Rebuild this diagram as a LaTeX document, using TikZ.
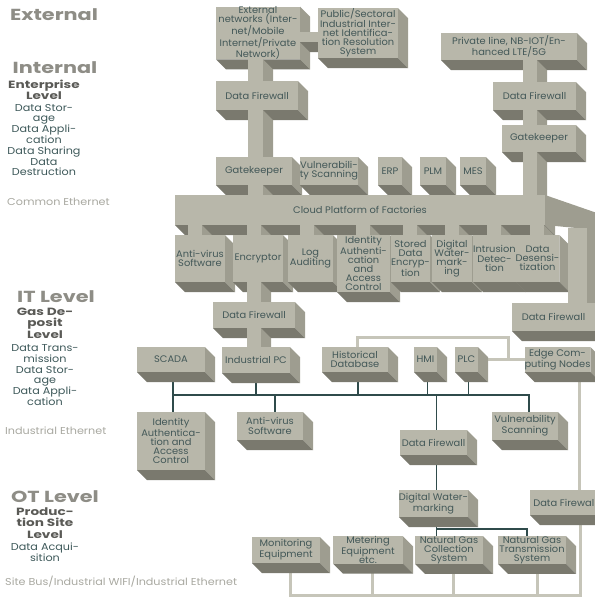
\documentclass[tikz,border=0pt]{standalone}
\usepackage{fontspec}
\setmainfont{Poppins}
\newfontfamily\headfont{Poppins}[FakeStretch=1.3]
\newfontfamily\widefont{Poppins}[FakeStretch=1.12]
\newfontfamily\boxfont{Poppins}[FakeStretch=1.04]
\usetikzlibrary{calc}

\definecolor{faceC}{HTML}{B8B7AA}
\definecolor{sideC}{HTML}{9E9D90}
\definecolor{baseC}{HTML}{7A796E}
\definecolor{boxtxt}{HTML}{435858}
\definecolor{wireC}{HTML}{2F4B4B}
\definecolor{liteC}{HTML}{C6C5B9}
\definecolor{headC}{HTML}{8E8D86}
\definecolor{subC}{HTML}{5A5A56}
\definecolor{bodyC}{HTML}{3D5859}
\definecolor{netC}{HTML}{A8A8A0}

\pgfdeclarelayer{wires}
\pgfdeclarelayer{faces}
\pgfdeclarelayer{bars}
\pgfsetlayers{wires,faces,bars,main}

\tikzset{
  slabface/.style={fill=faceC, text=boxtxt, align=center, inner sep=0pt, outer sep=0pt,
    font=\boxfont\fontsize{9.5}{9.2}\selectfont},
  wire/.style={draw=wireC, line width=1.8pt},
  lite/.style={draw=liteC, line width=3pt},
  tierhead/.style={text=headC, font=\headfont\bfseries\fontsize{16}{18}\selectfont, inner sep=0pt},
  tiersub/.style={text=subC, align=center, font=\headfont\bfseries\fontsize{10.5}{11.5}\selectfont, inner sep=0pt},
  tierbody/.style={text=bodyC, align=center, font=\widefont\fontsize{10}{10.8}\selectfont, inner sep=0pt},
  netlabel/.style={text=netC, anchor=west, font=\widefont\fontsize{10}{12}\selectfont, inner sep=0pt},
}

% extruded box: name, x1, y1, x2, y2 (front face), text
\newcommand\slab[6]{%
  \pgfmathsetmacro\slabw{#4-#2}%
  \pgfmathsetmacro\slabh{#5-#3}%
  \node[slabface, minimum width=\slabw pt, minimum height=\slabh pt] (#1) at ({(#2+#4)/2},{(#3+#5)/2}) {#6};
  \begin{pgfonlayer}{faces}
    \fill[sideC] (#1.north east) -- ++(10,10) -- ([shift={(10,10)}]#1.south east) -- (#1.south east) -- cycle;
    \fill[baseC] (#1.south west) -- (#1.south east) -- ++(10,10) -- ([shift={(10,10)}]#1.south west) -- cycle;
  \end{pgfonlayer}
}
% vertical extruded bar between two boxes, front face from x #3 to x #4
\newcommand\vlink[4]{%
  \begin{pgfonlayer}{bars}
    \fill[sideC] let \p1=(#1.south), \p2=(#2.north) in
      (#4pt,\y1) -- (#4pt+10pt,\y1-10pt) -- (#4pt+10pt,\y2-10pt) -- (#4pt,\y2) -- cycle;
    \fill[faceC] let \p1=(#1.south), \p2=(#2.north) in (#3pt,\y1) rectangle (#4pt,\y2);
  \end{pgfonlayer}
}
% horizontal extruded bar between two boxes, front face from y #3 to y #4
\newcommand\hlink[4]{%
  \begin{pgfonlayer}{bars}
    \fill[baseC] let \p1=(#1.east), \p2=(#2.west) in
      (\x1,-#4pt) -- (\x2,-#4pt) -- (\x2+10pt,-#4pt-10pt) -- (\x1+10pt,-#4pt-10pt) -- cycle;
    \fill[faceC] let \p1=(#1.east), \p2=(#2.west) in (\x1,-#3pt) rectangle (\x2,-#4pt);
  \end{pgfonlayer}
}

\begin{document}
\begin{tikzpicture}[x=1pt,y=-1pt]
\useasboundingbox (0,0) rectangle (595,598);

% ---- tier captions
\node[tierhead] (tExt) at (54,15) {External};
\node[tierhead] (tInt) at (55,68) {Internal};
\node[tiersub] (tEnt) at (44,90) {Enterprise\\Level};
\node[tierbody] (tEntB) at (44,140) {Data Stor-\\age\\Data Appli-\\cation\\Data Sharing\\Data\\Destruction};
\node[netlabel] (nCommon) at (7,202) {Common Ethernet};
\node[tierhead] (tIT) at (56,297) {IT Level};
\node[tiersub] (tGas) at (45,323) {Gas De-\\posit\\Level};
\node[tierbody] (tGasB) at (45,375) {Data Trans-\\mission\\Data Stor-\\age\\Data Appli-\\cation};
\node[netlabel] (nInd) at (5,431) {Industrial Ethernet};
\node[tierhead] (tOT) at (55,497) {OT Level};
\node[tiersub] (tProd) at (45,523) {Produc-\\tion Site\\Level};
\node[tierbody] (tProdB) at (45,552) {Data Acqui-\\sition};
\node[netlabel] (nSite) at (5,582) {Site Bus/Industrial WIFI/Industrial Ethernet};

% ---- external and enterprise boxes
\slab{ext}{216}{8}{300}{58}{External\\networks (Inter-\\net/Mobile\\Internet/Private\\Network)}
\slab{pub}{318}{8}{398}{58}{Public/Sectoral\\Industrial Inter-\\net Identifica-\\tion Resolution\\System}
\slab{priv}{441}{33}{577}{60}{Private line, NB-IOT/En-\\hanced LTE/5G}
\slab{fwA}{216}{81}{298}{110}{Data Firewall}
\slab{fwB}{493}{82}{576}{110}{Data Firewall}
\slab{gkB}{502}{125}{576}{152}{Gatekeeper}
\slab{gkA}{216}{157}{292}{185}{Gatekeeper}
\slab{vsA}{300}{157}{358}{185}{Vulnerabili-\\ty Scanning}
\slab{erp}{378}{157}{402}{185}{ERP}
\slab{plm}{420}{157}{446}{185}{PLM}
\slab{mes}{460}{157}{486}{185}{MES}
\slab{cloud}{175}{195}{545}{225}{Cloud Platform of Factories}
\slab{av1}{175}{235}{225}{282}{Anti-virus\\Software}
\slab{enc}{233}{235}{283}{282}{Encryptor}
\slab{log}{288}{235}{333}{282}{Log\\Auditing}
\slab{ida1}{337}{235}{390}{292}{Identity\\Authenti-\\cation\\and\\Access\\Control}
\slab{sde}{391}{235}{430}{282}{Stored\\Data\\Encryp-\\tion}
\slab{dwm1}{432}{235}{472}{282}{Digital\\Water-\\mark-\\ing}
\slab{ids}{474}{235}{515}{282}{Intrusion\\Detec-\\tion}
\slab{dds}{517}{235}{558}{282}{Data\\Desensi-\\tization}

% ---- gas deposit level boxes
\slab{fwC}{213}{302}{295}{328}{Data Firewall}
\slab{fwD}{512}{303}{595}{331}{Data Firewall}
\slab{scada}{137}{347}{205}{372}{SCADA}
\slab{ipc}{222}{347}{290}{373}{Industrial PC}
\slab{hdb}{322}{347}{388}{372}{Historical\\Database}
\slab{hmi}{414}{347}{437}{372}{HMI}
\slab{plc}{455}{347}{478}{372}{PLC}
\slab{edge}{525}{347}{590}{372}{Edge Com-\\puting Nodes}
\slab{ida2}{137}{412}{205}{470}{Identity\\Authentica-\\tion and\\Access\\Control}
\slab{av2}{237}{412}{303}{440}{Anti-virus\\Software}
\slab{vs2}{492}{412}{558}{440}{Vulnerability\\Scanning}
\slab{fwE}{400}{430}{467}{455}{Data Firewall}

% ---- production site level boxes
\slab{dwm2}{400}{490}{467}{517}{Digital Water-\\marking}
\slab{fwF}{530}{490}{600}{515}{Data Firewall}
\slab{mon}{252}{537}{320}{563}{Monitoring\\Equipment}
\slab{met}{333}{537}{403}{563}{Metering\\Equipment\\etc.}
\slab{ngc}{415}{537}{483}{563}{Natural Gas\\Collection\\System}
\slab{ngt}{498}{537}{566}{563}{Natural Gas\\Transmission\\System}

% ---- extruded trunks
\hlink{ext}{pub}{32}{42}
\vlink{ext}{fwA}{248}{263}
\vlink{fwA}{gkA}{248}{263}
\vlink{gkA}{cloud}{248}{263}
\vlink{priv}{fwB}{523}{537}
\vlink{fwB}{gkB}{523}{537}
\vlink{gkB}{cloud}{523}{537}
\vlink{cloud}{av1}{188}{202}
\vlink{cloud}{enc}{247}{261}
\vlink{cloud}{log}{300}{314}
\vlink{cloud}{ida1}{356}{370}
\vlink{cloud}{sde}{403}{417}
\vlink{cloud}{dwm1}{445}{459}
\vlink{cloud}{ids}{487}{501}
\vlink{cloud}{dds}{530}{544}
\vlink{enc}{fwC}{247}{261}
\vlink{fwC}{ipc}{247}{261}
% elbow from the cloud platform down to the right-hand firewall
\begin{pgfonlayer}{bars}
  \fill[sideC] (cloud.north east) -- (597,213) -- (597,230) -- (cloud.south east) -- cycle;
  \fill[sideC] let \p1=(fwD.north) in (587pt,-228pt) -- (597pt,-228pt) -- (597pt,\y1) -- (587pt,\y1) -- cycle;
  \fill[faceC] let \p1=(fwD.north) in (568pt,-228pt) rectangle (587pt,\y1);
\end{pgfonlayer}

% ---- industrial ethernet wiring
\coordinate (itbus) at (0,395);
\coordinate (split) at (0,529);
\begin{pgfonlayer}{wires}
  \draw[wire] ([xshift=2pt]scada.south) -- ([xshift=2pt]scada.south |- itbus) -- ([xshift=2pt]ida2.north);
  \draw[wire] ([xshift=2pt]scada.south |- itbus) -- ([xshift=4pt]vs2.north |- itbus) -- ([xshift=4pt]vs2.north);
  \draw[wire] (ipc.south) -- (ipc.south |- itbus);
  \draw[wire] ([xshift=3pt]hdb.south) -- ([xshift=3pt]hdb.south |- itbus);
  \draw[wire] ([xshift=2pt]hmi.south) -- ([xshift=2pt]hmi.south |- itbus);
  \draw[wire] ([xshift=2pt]plc.south) -- ([xshift=2pt]plc.south |- itbus);
  \draw[wire] ([xshift=5pt]av2.north) -- ([xshift=5pt]av2.north |- itbus);
  \draw[wire] ([xshift=3pt]fwE.north) -- ([xshift=3pt]fwE.north |- itbus);
  \draw[wire] ([xshift=3pt]fwE.south) -- ([xshift=3pt]dwm2.north);
  \draw[wire] ([xshift=3pt]dwm2.south) -- ([xshift=3pt]dwm2.south |- ngc.north);
  \draw[wire] ([xshift=3pt]dwm2.south |- split) -| ([xshift=-5pt]ngt.north);

  % site bus and edge links
  \coordinate (ring) at (508,337);
  \coordinate (sitebus) at (0,595);
  \draw[lite] (plc.east) -- (edge.west);
  \draw[lite] ([xshift=2pt]hdb.north) |- (ring) -- (ring |- plc.east);
  \draw[lite] ([xshift=22pt]edge.south) -- ([xshift=22pt]edge.south |- fwF.north);
  \draw[lite] ([xshift=15pt]fwF.south) -- ([xshift=15pt]fwF.south |- sitebus) -- ([xshift=4pt]mon.south |- sitebus) -- ([xshift=4pt]mon.south);
  \draw[lite] ([xshift=4pt]met.south) -- ([xshift=4pt]met.south |- sitebus);
  \draw[lite] ([xshift=4pt]ngc.south) -- ([xshift=4pt]ngc.south |- sitebus);
  \draw[lite] ([xshift=5pt]ngt.south) -- ([xshift=5pt]ngt.south |- sitebus);
\end{pgfonlayer}
\end{tikzpicture}
\end{document}
